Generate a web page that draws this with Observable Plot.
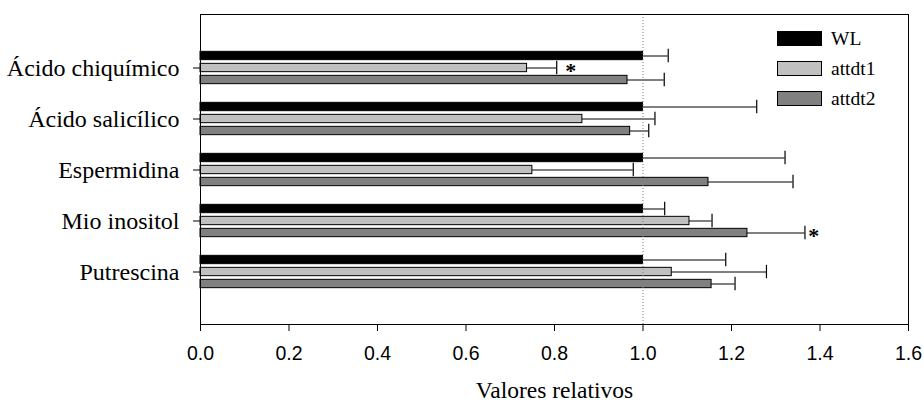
<!DOCTYPE html>
<html>
<head>
<meta charset="utf-8">
<script src="https://cdn.jsdelivr.net/npm/d3@7"></script>
<script src="https://cdn.jsdelivr.net/npm/@observablehq/plot@0.6"></script>
<style>
  html, body { margin: 0; padding: 0; background: #fff; }
  #chart { position: relative; width: 924px; height: 405px; }
  .lg-box { position: absolute; width: 43px; height: 13px; border: 1px solid #000; }
  .lg-text { position: absolute; font-family: "Liberation Serif", serif; font-size: 19.5px; line-height: 1; white-space: nowrap; color: #000; }
</style>
</head>
<body>
<div id="chart"></div>
<script>
// ---- data ----
const categories = ["Ácido chiquímico", "Ácido salicílico", "Espermidina", "Mio inositol", "Putrescina"];
const series = ["WL", "attdt1", "attdt2"];
const seriesColors = ["#000000", "#c0c0c0", "#808080"];

const valuesWL     = [1.000, 1.000, 1.000, 1.000, 1.000];
const errorsWL     = [0.057, 0.257, 0.321, 0.049, 0.187];
const valuesAttdt1 = [0.738, 0.863, 0.750, 1.105, 1.065];
const errorsAttdt1 = [0.067, 0.164, 0.228, 0.051, 0.214];
const valuesAttdt2 = [0.965, 0.971, 1.148, 1.236, 1.155];
const errorsAttdt2 = [0.083, 0.042, 0.191, 0.130, 0.053];

const xTicks = [0, 0.2, 0.4, 0.6, 0.8, 1.0, 1.2, 1.4, 1.6];
const referenceLine = [1.0];

const starCategories = ["Ácido chiquímico", "Mio inositol"];
const starSeries = ["attdt1", "attdt2"];
const starX = [0.837, 1.386];

// ---- build table ----
const allValues = [valuesWL, valuesAttdt1, valuesAttdt2];
const allErrors = [errorsWL, errorsAttdt1, errorsAttdt2];
const data = series.flatMap((s, k) => categories.map((c, i) => ({
  category: c, series: s, value: allValues[k][i], err: allErrors[k][i]
})));
const stars = starCategories.map((c, i) => ({category: c, series: starSeries[i], x: starX[i]}));

// ---- layout ----
const W = 924, H = 405, mt = 14, mb = 81, ml = 200, mr = 16;
const bw = (H - mt - mb) / (categories.length + 1); // paddingInner 0, paddingOuter 0.5
const offsets = {WL: -12, attdt1: 0, attdt2: 12};
const barH = 9;
const capH = 14;

const marks = [];
series.forEach((s, k) => {
  const sub = data.filter(d => d.series === s);
  const off = offsets[s];
  marks.push(Plot.barX(sub, {
    x: "value", y: "category", fill: seriesColors[k], stroke: "#000", strokeWidth: 1,
    insetTop: bw / 2 + off - barH / 2, insetBottom: bw / 2 - off - barH / 2
  }));
  marks.push(Plot.ruleY(sub, {
    y: "category", x1: "value", x2: d => d.value + d.err, dy: off, stroke: "#000", strokeWidth: 1
  }));
  marks.push(Plot.tickX(sub, {
    x: d => d.value + d.err, y: "category", stroke: "#000", strokeWidth: 1.2,
    insetTop: bw / 2 + off - capH / 2, insetBottom: bw / 2 - off - capH / 2
  }));
  const st = stars.filter(d => d.series === s);
  if (st.length) {
    marks.push(Plot.text(st, {
      x: "x", y: "category", text: () => "*", dy: off + 3,
      fontSize: 22, fontWeight: "bold", fontFamily: "Liberation Serif", fill: "#000"
    }));
  }
});

const chart = Plot.plot({
  width: W, height: H,
  marginTop: mt, marginBottom: mb, marginLeft: ml, marginRight: mr,
  style: {fontFamily: "Liberation Serif", fontSize: "23.5px", color: "#000", background: "#fff", overflow: "visible"},
  x: {domain: [0, 1.6]},
  y: {domain: categories, paddingInner: 0, paddingOuter: 0.5},
  marks: [
    ...marks,
    Plot.ruleX(referenceLine, {stroke: "#7a7a7a", strokeDasharray: "1,2"}),
    Plot.frame({stroke: "#000", strokeWidth: 1}),
    Plot.axisY({tickSize: 7, tickPadding: 14, fontSize: 24, fontFamily: "Liberation Serif", label: null}),
    Plot.axisX({ticks: xTicks, tickFormat: d3.format(".1f"), tickSize: 7, tickPadding: 15,
      fontSize: 19.5, fontFamily: "Liberation Sans", label: null}),
    Plot.text(["Valores relativos"], {text: d => d, frameAnchor: "bottom", lineAnchor: "middle", dy: 66,
      fontSize: 23.5, fontFamily: "Liberation Serif", fill: "#000"})
  ]
});

const host = document.getElementById("chart");
host.appendChild(chart);

// legend (inside the frame, top right)
const lgTops = [31, 61, 91];
series.forEach((s, k) => {
  const box = document.createElement("div");
  box.className = "lg-box";
  box.style.left = "777px";
  box.style.top = lgTops[k] + "px";
  box.style.background = seriesColors[k];
  host.appendChild(box);
  const t = document.createElement("div");
  t.className = "lg-text";
  t.style.left = "831px";
  t.style.top = (lgTops[k] + 14.5 - 16.3) + "px";
  t.textContent = s;
  host.appendChild(t);
});
</script>
</body>
</html>
